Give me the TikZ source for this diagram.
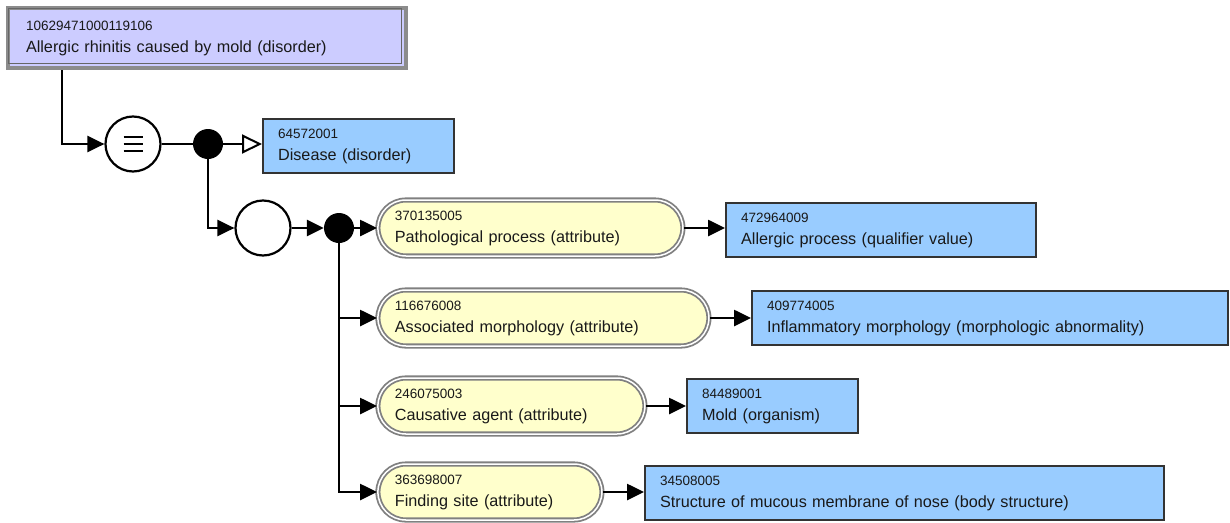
\documentclass[tikz,border=0pt]{standalone}
\usepackage{fontspec}
\setmainfont{Liberation Sans}
\usetikzlibrary{arrows.meta,calc}
\definecolor{conceptfill}{HTML}{99CCFF}
\definecolor{focusfill}{HTML}{CCCCFF}
\definecolor{attrfill}{HTML}{FFFFCC}
% concept identifier, set smaller than the term
\newcommand{\sctid}[1]{{\fontsize{13.5}{22}\selectfont #1}}

\begin{document}
\begin{tikzpicture}[x=1pt,y=-1pt,
  every node/.style={font=\fontsize{16.2}{22}\selectfont, text=black!90},
  conceptbox/.style={rectangle, draw=black!80, line width=2.2pt, fill=conceptfill,
    anchor=west, minimum height=54pt, inner xsep=15pt, inner ysep=0pt, align=left},
  focusbox/.style={rectangle, draw=black!45, line width=4pt, fill=focusfill,
    anchor=north west, minimum height=60pt, inner xsep=18pt, inner ysep=0pt, align=left},
  attrbox/.style={rectangle, rounded corners=28pt, draw=black!50, double=white,
    double distance=1.5pt, line width=1.8pt, fill=attrfill, anchor=west,
    minimum height=56pt, inner xsep=17pt, inner ysep=0pt, align=left},
  opcircle/.style={circle, draw=black, line width=2.2pt, fill=white,
    minimum size=55pt, inner sep=0pt},
  joindot/.style={circle, fill=black, minimum size=30pt, inner sep=0pt},
  link/.style={line width=2.6pt, draw=black},
  arr/.style={link, -{Triangle[length=17pt,width=16pt]}},
  isa/.style={line width=2pt, draw=black, -{Triangle[open,length=20pt,width=19pt,fill=white]}}
]
\useasboundingbox (0,0) rectangle (1230,522);

% defined concept
\node[focusbox, text width=362pt] (focus) at (6,6)
  {\sctid{10629471000119106}\\Allergic rhinitis caused by mold (disorder)};
\draw[black!60, line width=0.8pt] (8.5,8.5) rectangle (401.5,63.5);

% definition status and groups
\node[opcircle] (eq) at (133,144) {};
\foreach \dy in {-7,0,7}
  \draw[line width=2.8pt] ($(eq.center)+(-9.5,\dy)$) -- ($(eq.center)+(9.5,\dy)$);
\node[joindot] (dot1) at (208,144) {};
\node[opcircle] (grp) at (263,228) {};
\node[joindot] (dot2) at (339,228) {};

% parent concept
\node[conceptbox, text width=161pt] (dis) at (262,146)
  {\sctid{64572001}\\Disease (disorder)};

% attributes
\node[attrbox, text width=271pt] (pp) at (377,228)
  {\sctid{370135005}\\Pathological process (attribute)};
\node[attrbox, text width=297pt] (am) at (377,318)
  {\sctid{116676008}\\Associated morphology (attribute)};
\node[attrbox, text width=233pt] (ca) at (377,406)
  {\sctid{246075003}\\Causative agent (attribute)};
\node[attrbox, text width=190pt] (fs) at (377,492)
  {\sctid{363698007}\\Finding site (attribute)};

% attribute values
\node[conceptbox, text width=280pt] (ap) at (725,230)
  {\sctid{472964009}\\Allergic process (qualifier value)};
\node[conceptbox, text width=446pt] (im) at (751,318)
  {\sctid{409774005}\\Inflammatory morphology (morphologic abnormality)};
\node[conceptbox, text width=141pt] (mo) at (686,406)
  {\sctid{84489001}\\Mold (organism)};
\node[conceptbox, text width=489pt] (st) at (644,493)
  {\sctid{34508005}\\Structure of mucous membrane of nose (body structure)};

% connectors
\draw[arr] ([xshift=56pt]focus.south west) |- (eq.west);
\draw[link] (eq) -- (dot1);
\draw[isa] (dot1) -- (dot1 -| dis.west);
\draw[arr] (dot1) |- (grp.west);
\draw[arr] (grp) -- (dot2);
\draw[arr] (dot2) -- (dot2 -| pp.west);
\draw[arr] (dot2) |- (am.west);
\draw[arr] (dot2) |- (ca.west);
\draw[arr] (dot2) |- (fs.west);
\draw[arr] (pp.east) -- (pp.east -| ap.west);
\draw[arr] (am.east) -- (am.east -| im.west);
\draw[arr] (ca.east) -- (ca.east -| mo.west);
\draw[arr] (fs.east) -- (fs.east -| st.west);
\end{tikzpicture}
\end{document}
